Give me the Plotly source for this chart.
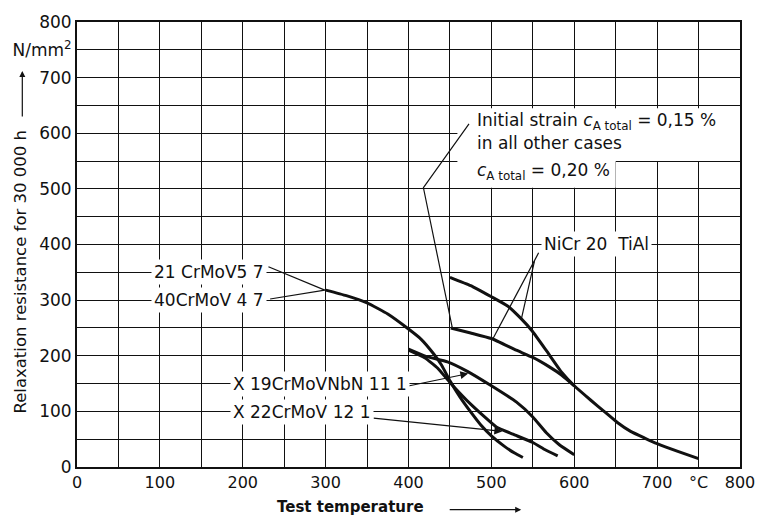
import plotly.graph_objects as go

# Relaxation resistance (N/mm²) after 30 000 h versus test temperature (°C)
crmov_t = [300, 325, 350, 375, 400, 415, 430, 440, 450, 462, 475, 487, 500, 515, 528, 538]
crmov_r = [318, 308, 295, 275, 248, 230, 204, 183, 155, 126, 99, 76, 56, 38, 25, 17]

x19_t = [400, 421, 447, 471, 500, 530, 550, 566, 582, 600]
x19_r = [212, 199, 189, 172, 146, 117, 90, 62, 40, 22]

x22_t = [400, 420, 435, 450, 475, 506, 526, 550, 565, 580]
x22_r = [210, 196, 178, 152, 113, 72, 59, 44, 31, 20]

nicr_020_t = [450, 475, 500, 520, 535, 549, 566, 585, 600, 620, 636, 652, 668, 685, 700, 725, 750]
nicr_020_r = [341, 326, 306, 289, 268, 245, 210, 170, 146, 120, 100, 80, 64, 52, 42, 28, 15]

nicr_015_t = [451, 475, 500, 530, 550, 570, 585, 600]
nicr_015_r = [250, 241, 231, 210, 197, 180, 165, 146]

x_tickvals = [0, 100, 200, 300, 400, 500, 600, 700, 750, 800]
x_ticktext = ["0", "100", "200", "300", "400", "500", "600", "700", "°C", "800"]
y_tickvals = [0, 100, 200, 300, 400, 500, 600, 700, 750, 800]
y_ticktext = ["0", "100", "200", "300", "400", "500", "600", "700", "N/mm<sup>2</sup>", "800"]
grid_minor = [50, 150, 250, 350, 450, 550, 650]

FONT = "DejaVu Sans"
INK = "#111111"

fig = go.Figure()

curves = [
    (crmov_t, crmov_r),
    (x19_t, x19_r),
    (x22_t, x22_r),
    (nicr_020_t, nicr_020_r),
    (nicr_015_t, nicr_015_r),
]
for t, r in curves:
    fig.add_trace(go.Scatter(x=t, y=r, mode="lines", showlegend=False,
                             line=dict(color=INK, width=3, shape="spline", smoothing=0.4),
                             hoverinfo="skip"))

# leader from the strain note down to the start of the 0.15 % curve
note_leader_x = [473, 418, 453]
note_leader_y = [617, 502, 249]
fig.add_trace(go.Scatter(x=note_leader_x, y=note_leader_y, mode="lines", showlegend=False,
                         line=dict(color=INK, width=1.2), hoverinfo="skip"))

# plain leader lines: (tail x, tail y, head x, head y)
leaders = [
    (231, 360, 299, 318),
    (233, 302, 299, 318),
    (557, 385, 502, 231),
    (552, 370, 536, 265),
]
for x0, y0, x1, y1 in leaders:
    fig.add_shape(type="line", x0=x0, y0=y0, x1=x1, y1=y1, layer="above",
                  line=dict(color=INK, width=1.2))

annotations = []
# leaders ending in a narrow arrowhead
for x0, y0, x1, y1 in [(398, 145, 472, 168), (356, 88, 513, 64)]:
    annotations.append(dict(x=x1, y=y1, ax=x0, ay=y0, xref="x", yref="y", axref="x", ayref="y",
                            text="", showarrow=True, arrowhead=2, arrowsize=1.3, arrowwidth=1.2,
                            arrowcolor=INK, standoff=0, startstandoff=0))

labels = [
    (89, 350, "21 CrMoV5 7"),
    (89, 300, "40CrMoV 4 7"),
    (185, 149, "X 19CrMoVNbN 11 1"),
    (185, 98, "X 22CrMoV 12 1"),
    (560, 401, "NiCr 20\u00a0\u00a0TiAl"),
]
for lx, ly, txt in labels:
    annotations.append(dict(x=lx, y=ly, xref="x", yref="y", text=txt, showarrow=False,
                            xanchor="left", yanchor="middle", bgcolor="white", borderpad=2,
                            font=dict(family=FONT, size=17, color=INK)))

note_lines = [
    (622, "Initial strain <i>c</i><sub>A total</sub> = 0,15 %"),
    (583, "in all other cases"),
    (531, "<i>c</i><sub>A total</sub> = 0,20 %"),
]
for ly, txt in note_lines:
    annotations.append(dict(x=480, y=ly, xref="x", yref="y", text=txt, showarrow=False,
                            xanchor="left", yanchor="middle",
                            font=dict(family=FONT, size=17, color=INK)))

# axis titles with their direction arrows
annotations += [
    dict(x=-0.0854, y=0.44, xref="paper", yref="paper", text="Relaxation resistance for 30 000 h",
         textangle=-90, showarrow=False, xanchor="center", yanchor="middle",
         font=dict(family=FONT, size=16.5, color=INK)),
    dict(x=-0.0825, y=0.89, xref="paper", yref="paper", text="", showarrow=True,
         ax=0, ay=47, arrowhead=2, arrowsize=1, arrowwidth=1.2, arrowcolor=INK),
    dict(x=0.413, y=-0.09, xref="paper", yref="paper", text="<b>Test temperature</b>",
         showarrow=False, xanchor="center", yanchor="middle",
         font=dict(family=FONT, size=15, color=INK)),
    dict(x=0.670, y=-0.096, xref="paper", yref="paper", text="", showarrow=True,
         ax=-73, ay=0, arrowhead=2, arrowsize=1, arrowwidth=1.2, arrowcolor=INK),
]

# white panel behind the strain note
fig.add_shape(type="rect", x0=459, x1=800, y0=550, y1=645, layer="between",
              fillcolor="white", line=dict(width=0))
fig.add_shape(type="rect", x0=459, x1=650, y0=502, y1=550, layer="between",
              fillcolor="white", line=dict(width=0))

axis_common = dict(range=[0, 800], showline=True, linewidth=2, linecolor=INK, mirror=True,
                   showgrid=True, gridcolor=INK, gridwidth=1.4, zeroline=False, ticks="",
                   minor=dict(tickvals=grid_minor, showgrid=True, gridcolor=INK, gridwidth=1.4))

fig.update_xaxes(**axis_common, tickvals=x_tickvals, ticktext=x_ticktext,
                 tickfont=dict(family=FONT, size=16, color=INK))
fig.update_yaxes(**axis_common, tickvals=y_tickvals, ticktext=y_ticktext,
                 tickfont=dict(family=FONT, size=17, color=INK))

fig.update_layout(width=767, height=520, margin=dict(l=74, r=20, t=21, b=53),
                  paper_bgcolor="white", plot_bgcolor="white",
                  annotations=annotations, showlegend=False)

fig.write_html("out.html")
